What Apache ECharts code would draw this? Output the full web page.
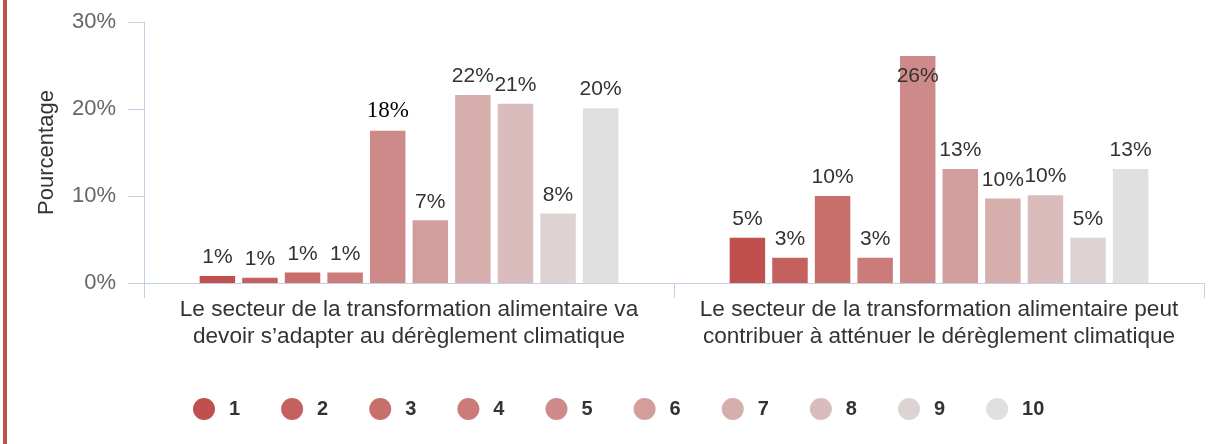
<!DOCTYPE html>
<html>
<head>
<meta charset="utf-8">
<script src="https://cdn.jsdelivr.net/npm/echarts@6/dist/echarts.min.js"></script>
<style>
  html, body { margin: 0; padding: 0; background: #fff; }
  #main { width: 1218px; height: 444px; }
</style>
</head>
<body>
<div id="main"></div>
<script>
var categories = [
    'Le secteur de la transformation alimentaire va\ndevoir s\u2019adapter au dérèglement climatique',
    'Le secteur de la transformation alimentaire peut\ncontribuer à atténuer le dérèglement climatique'
];
var seriesNames = ['1', '2', '3', '4', '5', '6', '7', '8', '9', '10'];
// one array per category, values per score 1..10
var adapter = [0.8, 0.6, 1.2, 1.2, 17.5, 7.2, 21.6, 20.6, 8.0, 20.1];
var attenuer = [5.2, 2.9, 10.0, 2.9, 26.1, 13.1, 9.7, 10.1, 5.2, 13.1];
var colors = ['#c0504d', '#c4605d', '#c86e6b', '#cb7c7a', '#ce8a89',
              '#d29e9c', '#d6aeac', '#dbbcbc', '#ddd3d3', '#e0e0e0'];

var dom = document.getElementById('main');
var myChart = echarts.init(dom);

var axisColor = '#c3cfe6';

var series = seriesNames.map(function (name, i) {
    var d1 = { value: adapter[i] };
    var d2 = { value: attenuer[i] };
    // the 18% label is drawn in a different font in the original
    if (i === 4) {
        d1.label = { fontFamily: 'Liberation Serif', fontSize: 23, color: '#000' };
        d2.label = { position: 'insideTop', distance: 10 };
    }
    return {
        name: name,
        type: 'bar',
        barGap: '20%',
        barCategoryGap: '21%',
        itemStyle: { color: colors[i] },
        label: {
            show: true,
            position: 'top',
            distance: 8,
            fontFamily: 'Liberation Sans',
            fontSize: 21,
            color: '#333',
            formatter: function (p) { return Math.round(p.value) + '%'; }
        },
        data: [d1, d2]
    };
});

var option = {
    animation: false,
    textStyle: { fontFamily: 'Liberation Sans' },
    graphic: [{
        type: 'rect',
        shape: { x: 3, y: 0, width: 4, height: 444 },
        style: { fill: '#c0504d' }
    }],
    grid: { left: 144, right: 14, top: 22, bottom: 161 },
    legend: {
        bottom: 19,
        left: 188,
        icon: 'circle',
        itemWidth: 22,
        itemHeight: 22,
        itemGap: 41,
        textStyle: {
            fontSize: 20, fontWeight: 'bold', color: '#333',
            fontFamily: 'Liberation Sans', padding: [0, 0, 0, 9]
        },
        data: seriesNames
    },
    xAxis: {
        type: 'category',
        data: categories,
        axisLine: { lineStyle: { color: axisColor } },
        axisTick: { show: true, length: 15, lineStyle: { color: axisColor } },
        axisLabel: {
            interval: 0,
            margin: 13,
            fontSize: 22.6,
            lineHeight: 27,
            color: '#333',
            fontFamily: 'Liberation Sans'
        }
    },
    yAxis: {
        type: 'value',
        min: 0,
        max: 30,
        interval: 10,
        name: 'Pourcentage',
        nameLocation: 'middle',
        nameRotate: 90,
        nameGap: 86,
        nameTextStyle: { fontSize: 22, color: '#333', fontFamily: 'Liberation Sans' },
        axisLine: { show: true, lineStyle: { color: axisColor } },
        axisTick: { show: true, length: 16, lineStyle: { color: axisColor } },
        splitLine: { show: false },
        axisLabel: {
            margin: 28,
            fontSize: 22,
            color: '#666',
            fontFamily: 'Liberation Sans',
            formatter: '{value}%'
        }
    },
    series: series
};

if (option && typeof option === 'object') {
    myChart.setOption(option, true);
}
</script>
</body>
</html>
